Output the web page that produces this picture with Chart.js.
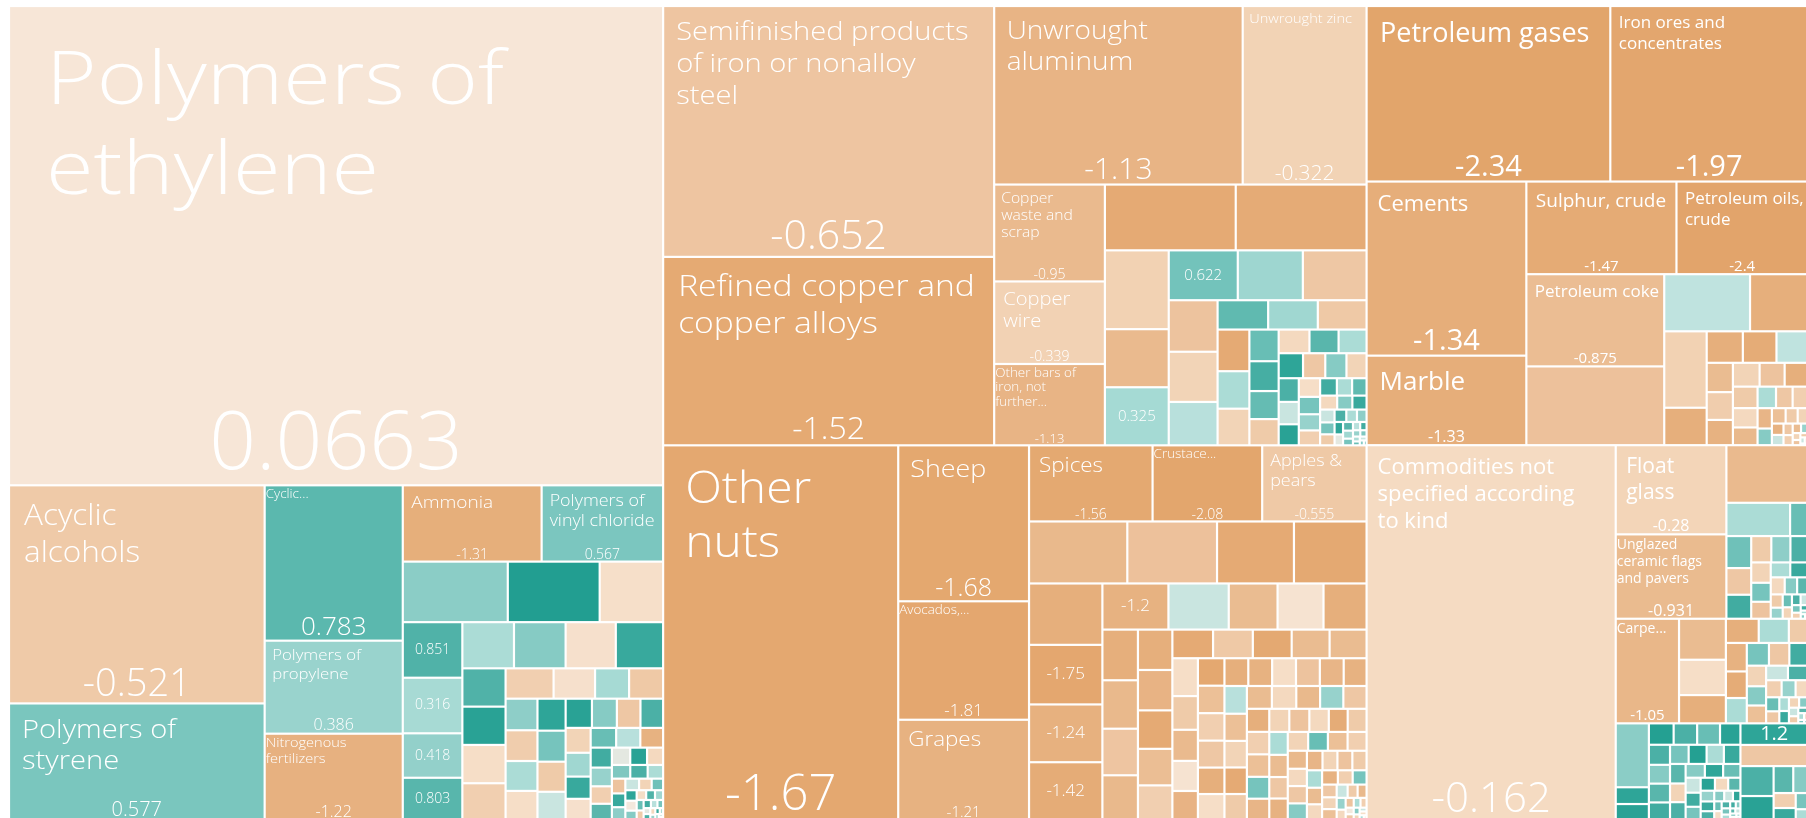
<!DOCTYPE html>
<html>
<head>
<meta charset="utf-8">
<script src="https://cdn.jsdelivr.net/npm/chart.js@4.4.0/dist/chart.umd.min.js"></script>
<style>
html,body{margin:0;padding:0;background:#ffffff;overflow:hidden;}
#wrap{position:relative;width:1830px;height:830px;}
</style>
</head>
<body>
<div id="wrap"><canvas id="c"></canvas></div>
<script>
// ================= DATA =================
// Chemicals
const chemNames = ["Polymers of\nethylene","Acyclic\nalcohols","Polymers of\nstyrene","Cyclic...","Polymers of\npropylene","Nitrogenous\nfertilizers","Ammonia","Polymers of\nvinyl chloride"];
const chemSizes = [236.7,42.1,22.5,16.2,9.7,9.0,8.0,7.0,4.8,4.2,2.9,2.5,2.5,2.0,1.9,1.8,1.8,1.75,1.65,1.25,1.25,1.25,1.2,1.1,0.95,0.78,0.78,
  0.76,0.74,0.72,0.7,0.68,0.66,0.64,0.6,0.58,0.55,0.52,0.5,0.47,0.45,0.42,0.4,0.38,0.36,0.34,0.32,0.3,0.28,0.26,0.24,0.22,0.21,0.19,0.18,0.16,0.15,0.14,0.13,0.12,0.11,0.1,0.09,0.085,0.08,0.07,0.065,0.06,0.055,0.05,0.045,0.04,0.035,0.03,0.03,0.025,0.02,0.02,0.015,0.015,0.01,0.01];
const chemValues = [0.0663,-0.521,0.577,0.783,0.386,-1.22,-1.31,0.567,0.47,1.45,-0.08,0.851,0.316,0.418,0.803,0.3,0.5,-0.05,1.1,0.85,1.3,-0.1,-0.4,-0.4,-0.05,0.32,-0.55,
  0.45,-0.45,0.3,-0.1,1.2,0.6,-0.5,0.2,1.3,0.5,-0.6,0.9,-0.3,0.35,1.1,-0.05,0.7,0.25,-1.2,1.0,0.4,-0.4,0.8,0.15,1.3,-0.2,0.55,0.9,0.3,-0.7,1.1,0.45,0.2,-0.3,0.65,1.2,0.1,0.5,-0.1,0.85,0.35,0.7,-0.5,1.0,0.25,0.6,0.15,0.9,-0.2,0.4,1.1,0.3,0.5,0.2,0.7];

// Metals
const metalNames = ["Semifinished products\nof iron or nonalloy\nsteel","Refined copper and\ncopper alloys","Unwrought\naluminum","Unwrought zinc","Copper\nwaste and\nscrap","Copper\nwire","Other bars of\niron, not\nfurther..."];
const metalSizes = [62.7,47.1,33.5,16.7,8.1,6.9,6.8,6.5,6.5,3.8,2.8,2.8,2.6,2.45,2.4,1.9,1.85,1.6,1.12,1.1,1.08,1.0,0.9,0.88,
  0.7,0.66,0.62,0.58,0.55,0.52,0.5,0.46,0.42,0.4,0.38,0.36,0.34,0.32,0.3,0.28,0.26,0.24,0.22,0.2,0.19,0.18,0.16,0.15,0.14,0.13,0.12,0.11,0.1,0.09,0.08,0.07,0.065,0.06,0.05,0.045,0.04,0.035,0.03,0.025,0.02,0.02,0.015,0.01];
const metalValues = [-0.652,-1.52,-1.13,-0.322,-0.95,-0.339,-1.13,-1.5,-1.45,-0.35,-0.95,0.325,0.622,0.36,-0.6,-0.7,-0.3,0.25,0.75,0.35,-0.55,-1.5,0.3,-0.3,
  0.7,0.95,0.72,-0.5,-0.2,0.8,0.3,1.2,-0.6,0.5,-0.3,0.9,0.2,1.3,-0.1,0.6,0.4,-0.4,1.0,0.3,0.75,-0.2,0.5,1.1,0.2,0.6,-0.5,0.9,0.3,0.45,1.2,0.15,0.8,0.35,0.6,0.25,1.0,0.4,0.55,0.3,0.7,0.2,0.5,0.9];

// Agriculture & food
const agriNames = ["Other\nnuts","Sheep","Avocados,...","Grapes","Spices","Crustace...","Apples &\npears"];
const agriSizes = [66.5,15.4,11.7,9.9,7.1,6.3,6.0,4.6,4.2,3.6,3.4,3.4,3.3,3.2,3.2,2.3,2.1,1.7,1.6,1.5,1.36,1.3,1.25,1.2,1.05,1.05,1.0,0.95,0.9,0.88,0.86,0.84,0.82,0.8,0.73,0.65,0.6,0.58,0.56,
  0.55,0.55,0.55,0.54,0.53,0.52,0.5,0.5,0.5,0.5,0.5,0.48,0.47,0.46,0.45,0.45,0.44,0.43,0.42,0.41,0.4,0.4,0.39,0.38,0.38,0.37,0.36,0.35,0.35,0.34,0.33,0.33,0.32,0.31,0.3,0.3,0.29,0.28,0.28,0.27,0.26,0.25,0.25,0.24,0.23,0.22,0.22,0.21,0.2,0.19,0.18,0.17,0.16,0.15,0.14,0.13,0.12,0.11,0.1,0.09,0.08,0.07,0.06,0.05,0.045,0.04,0.035,0.03,0.025,0.02,0.02,0.015,0.01];
const agriValues = [-1.67,-1.68,-1.81,-1.21,-1.56,-2.08,-0.555,-1.0,-0.75,-1.5,-1.55,-1.3,-1.75,-1.24,-1.42,-1.2,0.2,-0.9,0.0,-1.3,-1.3,-1.0,-0.65,-1.0,-1.3,-1.15,-1.5,-0.85,-0.4,-1.5,-0.55,-1.55,-0.9,-0.9,-0.1,-0.5,-0.95,0.0,-1.15,
  -1.6,-0.8,-0.4,-0.6,-1.3,-0.1,-1.3,-1.2,-0.1,-0.7,-1.1,-1.2,0.25,-0.8,-0.3,-1.5,-0.5,-0.9,-0.2,-1.0,0.4,-0.6,-1.3,-0.4,-0.8,0.6,-1.1,-0.3,-0.7,-0.2,-1.4,-0.5,0.3,-0.9,-0.6,-1.2,-0.3,0.7,-0.8,-0.4,-1.0,-0.2,-0.6,0.5,-1.1,-0.3,-0.7,-0.5,0.3,-0.9,-0.2,-1.2,-0.4,0.6,-0.6,-0.3,-0.8,0.2,-0.5,-1.0,0.4,-0.2,-0.7,0.3,-0.4,0.1,-0.6,0.5,-0.3,0.2,-0.1,0.3];

// Mineral products
const mineralNames = ["Petroleum gases","Iron ores and\nconcentrates","Cements","Marble","Sulphur, crude","Petroleum oils,\ncrude","Petroleum coke"];
const mineralSizes = [32.3,26.2,21.0,10.8,10.5,9.2,9.6,8.2,3.7,2.5,2.45,1.2,
  0.86,0.8,0.75,0.58,0.55,0.5,0.48,0.45,0.42,0.4,0.36,0.33,0.3,0.27,0.25,0.22,0.18,0.16,0.14,0.12,0.1,0.09,0.08,0.07,0.06,0.05,0.04,0.03,0.025,0.02,0.015,0.01];
const mineralValues = [-2.34,-1.97,-1.34,-1.33,-1.47,-2.4,-0.875,-0.75,0.22,-1.3,-0.35,-1.3,
  -1.3,-1.4,0.22,-0.9,-0.45,-1.2,-0.3,-0.7,-1.3,-0.5,-0.2,-1.0,0.3,-0.6,-0.4,-1.1,0.5,-0.8,-0.5,-0.3,-1.2,0.2,-0.6,-0.4,-0.9,0.4,-0.3,-0.7,-0.5,0.2,-0.2,-0.8];

// Other: unspecified, stone & glass, textiles, machinery
const miscNames = ["Commodities not\nspecified according\nto kind"];
const miscSizes = [70.5];
const miscValues = [-0.162];

const stoneNames = ["Float\nglass","Unglazed\nceramic flags\nand pavers"];
const stoneSizes = [7.45,7.05,3.55,1.6,0.45,0.6,0.5,0.45,0.4,0.38,0.35,0.3,0.28,0.25,0.22,0.2,0.18,0.16,0.14,0.12,0.1,0.09,0.08,0.07,0.06,0.05,0.04,0.03,0.02,0.015,0.01];
const stoneValues = [-0.28,-0.931,-0.95,0.3,0.7,0.65,-0.6,1.0,-0.5,0.45,0.9,-0.3,0.6,-0.7,0.3,1.1,-0.2,0.5,0.8,-0.5,0.4,0.7,-0.3,0.9,0.2,0.6,-0.4,1.0,0.3,0.5,-0.2];

const textileNames = ["Carpe..."];
const textileSizes = [5.0,1.45,1.25,1.0,0.6,0.55,0.35,0.45,0.42,0.4,0.38,0.35,0.32,0.3,0.28,0.26,0.24,0.22,0.2,0.18,0.16,0.14,0.12,0.1,0.09,0.08,0.07,0.06,0.05,0.04,0.03,0.02,0.015,0.01];
const textileValues = [-1.05,-0.9,-0.1,-1.3,-1.3,0.3,-0.5,-1.2,-1.4,0.3,0.6,-0.6,1.0,-0.3,0.5,-0.8,0.2,0.9,-0.4,0.4,-0.2,0.7,-0.6,0.3,1.1,-0.3,0.5,0.2,-0.5,0.8,0.3,-0.2,0.6,0.4];

const machSizes = [1.6,0.42,0.4,0.4,0.38,0.37,0.33,0.32,0.3,0.3,0.28,0.27,0.26,0.25,0.24,0.23,0.22,0.21,0.2,0.19,0.18,0.17,0.16,0.15,0.14,0.13,0.12,0.11,0.1,0.09,0.08,0.07,0.06,0.055,0.05,0.045,0.04,0.035,0.03,0.025,0.02,0.02,0.015,0.015,0.01,0.01];
const machValues = [0.47,1.2,1.3,1.4,0.9,0.7,1.3,0.9,0.5,0.8,1.0,0.6,1.4,0.3,1.1,0.8,-0.3,0.9,0.5,1.2,0.7,0.2,1.0,0.6,1.3,-0.2,0.8,0.4,1.1,0.9,0.5,0.2,1.2,0.7,-0.1,0.9,0.6,0.3,1.0,0.5,0.8,0.2,0.7,-0.2,0.4,0.6];

const mixSizes = [1.1,1.08,0.75,0.6,0.4,0.3,0.25,0.2,0.15,0.1];
const mixValues = [1.2,-0.6,0.9,1.3,0.8,0.5,-0.4,1.1,0.6,0.3];

// ================= STYLE / LAYOUT HINTS =================
// strip structure: negative = column on the left, positive = row on top (counts of items)
const STRIPS = {
  root:[-1,-2,1,1],
  chem:[1,-2,-3,2,3,-4,4,-4,4],
  metal:[-2,2,-3,2,-3,3,-3,3,-3],
  agri:[-1,-3,3,4,-4,5,-4,-5,5,-5],
  mineral:[2,-2,2,-2,2,-2],
  other:[-1,1,1,1],
  misc:[],
  stone:[-2,1,2,-3],
  textile:[-1,-3,3],
  machGroup:[-1,-1],
  mach:[-3],
  mix:[1,1]
};
const FONT_LIGHT = '"Open Sans", "Lato", sans-serif';
const FONT_WIDE = '"Open Sans", "Noto Sans", sans-serif';
const LIGHT_STRETCH = 1.12;
// n: name font px, v: value font px, tight: label hugging left edge, sx: horizontal stretch of name
const LABELS = {
  'chem:0':{n:74,v:82,sx:1.17}, 'chem:1':{n:30,v:38,sx:1.05}, 'chem:2':{n:26,v:20}, 'chem:3':{n:12,v:26,tight:true},
  'chem:4':{n:15,v:16}, 'chem:5':{n:13,v:16,tight:true}, 'chem:6':{n:17,v:14}, 'chem:7':{n:16,v:14},
  'chem:11':{v:14}, 'chem:12':{v:14}, 'chem:13':{v:14}, 'chem:14':{v:14},
  'metal:0':{n:26,v:41}, 'metal:1':{n:30,v:32}, 'metal:2':{n:25,v:30}, 'metal:3':{n:13,v:21},
  'metal:4':{n:14,v:14}, 'metal:5':{n:18,v:14}, 'metal:6':{n:12,v:13,tight:true},
  'metal:11':{v:15}, 'metal:12':{v:15},
  'agri:0':{n:44,v:49,sx:1.09}, 'agri:1':{n:24,v:25}, 'agri:2':{n:12,v:17,tight:true}, 'agri:3':{n:20,v:15},
  'agri:4':{n:20,v:14}, 'agri:5':{n:12,v:14,tight:true}, 'agri:6':{n:16,v:14},
  'agri:12':{v:17}, 'agri:13':{v:17}, 'agri:14':{v:17}, 'agri:15':{v:17},
  'mineral:0':{n:27,v:29,wide:true}, 'mineral:1':{n:17,v:29,wide:true}, 'mineral:2':{n:22,v:29,wide:true},
  'mineral:3':{n:26,v:16,wide:true}, 'mineral:4':{n:19,v:15,wide:true}, 'mineral:5':{n:17,v:15,wide:true},
  'mineral:6':{n:17,v:15,wide:true},
  'misc:0':{n:22,v:42,wide:true,lightValue:true},
  'stone:0':{n:21,v:16,wide:true}, 'stone:1':{n:14,v:16,wide:true,tight:true},
  'textile:0':{n:14,v:15,wide:true,tight:true},
  'mix:0':{v:20,wide:true}
};
const COLOR_STOPS = [
  [-2.5,'#E2A46A'],[-1.6,'#E4A870'],[-1.33,'#E6AE7A'],[-1.13,'#E8B485'],[-0.93,'#EABB8F'],
  [-0.65,'#EEC5A1'],[-0.52,'#EFCAA8'],[-0.32,'#F2D3B5'],[-0.16,'#F5DBC2'],[0.07,'#F7E6D7'],
  [0.13,'#EEEAE2'],[0.22,'#BFE3DF'],[0.32,'#A6DAD4'],[0.42,'#93D0CA'],[0.57,'#7BC6BF'],
  [0.62,'#73C3BB'],[0.78,'#5CB8AE'],[0.85,'#50B2A8'],[1.2,'#2EA598'],[1.5,'#1F9D8F']
];

// ================= BUILD TREE =================
function leaves(key, names, sizes, values) {
  return sizes.map((s, i) => ({ key: key + ':' + i, group: key, name: names[i] || '', value: s, metric: values[i] ?? 0 }));
}
function node(key, children) { return { key, children, value: children.reduce((a, c) => a + c.value, 0) }; }

const tree = node('root', [
  node('chem', leaves('chem', chemNames, chemSizes, chemValues)),
  node('metal', leaves('metal', metalNames, metalSizes, metalValues)),
  node('agri', leaves('agri', agriNames, agriSizes, agriValues)),
  node('mineral', leaves('mineral', mineralNames, mineralSizes, mineralValues)),
  node('other', [
    leaves('misc', miscNames, miscSizes, miscValues)[0],
    node('stone', leaves('stone', stoneNames, stoneSizes, stoneValues)),
    node('textile', leaves('textile', textileNames, textileSizes, textileValues)),
    node('machGroup', [
      node('mach', leaves('mach', [], machSizes, machValues)),
      node('mix', leaves('mix', [], mixSizes, mixValues))
    ])
  ])
]);

// ================= LAYOUT (in data units) =================
const RATIO = 1;
function placeRow(items, x0, y0, x1, y1, horizontal, out) {
  const tot = items.reduce((a, c) => a + c.value, 0);
  let p = horizontal ? x0 : y0;
  items.forEach(it => {
    const f = tot ? it.value / tot : 0;
    if (horizontal) { const w = (x1 - x0) * f; layout(it, p, y0, p + w, y1, out); p += w; }
    else { const h = (y1 - y0) * f; layout(it, x0, p, x1, p + h, out); p += h; }
  });
}
function squarify(items, x0, y0, x1, y1, out) {
  let value = items.reduce((a, c) => a + c.value, 0);
  let i0 = 0; const n = items.length;
  while (i0 < n) {
    const dx = x1 - x0, dy = y1 - y0;
    let i1 = i0;
    let sum = items[i1++].value, minV = sum, maxV = sum;
    const alpha = Math.max(dy / dx, dx / dy) / (value * RATIO);
    let beta = sum * sum * alpha;
    let minRatio = Math.max(maxV / beta, beta / minV);
    for (; i1 < n; ++i1) {
      const v = items[i1].value;
      sum += v;
      const mn = Math.min(minV, v), mx = Math.max(maxV, v);
      beta = sum * sum * alpha;
      const r = Math.max(mx / beta, beta / mn);
      if (r > minRatio) { sum -= v; break; }
      minRatio = r; minV = mn; maxV = mx;
    }
    const row = items.slice(i0, i1);
    if (dx < dy) { const h = value ? dy * sum / value : dy; placeRow(row, x0, y0, x1, y0 + h, true, out); y0 += h; }
    else { const w = value ? dx * sum / value : dx; placeRow(row, x0, y0, x0 + w, y1, false, out); x0 += w; }
    value -= sum; i0 = i1;
  }
}
function layout(nd, x0, y0, x1, y1, out) {
  if (!nd.children) { out.push(Object.assign({}, nd, { x0, y0, x1, y1 })); return; }
  const kids = nd.children;
  let V = nd.value, i = 0;
  for (const s of (STRIPS[nd.key] || [])) {
    const cnt = Math.abs(s); const part = kids.slice(i, i + cnt);
    if (!part.length) break;
    const sv = part.reduce((a, c) => a + c.value, 0);
    if (s < 0) { const w = (x1 - x0) * sv / V; placeRow(part, x0, y0, x0 + w, y1, false, out); x0 += w; }
    else { const h = (y1 - y0) * sv / V; placeRow(part, x0, y0, x1, y0 + h, true, out); y0 += h; }
    V -= sv; i += cnt;
  }
  if (i < kids.length) squarify(kids.slice(i), x0, y0, x1, y1, out);
}

// ================= COLOURS & TEXT =================
function hexToRgb(h) { return [1, 3, 5].map(k => parseInt(h.slice(k, k + 2), 16)); }
function colorFor(v) {
  const s = COLOR_STOPS;
  if (v <= s[0][0]) return s[0][1];
  if (v >= s[s.length - 1][0]) return s[s.length - 1][1];
  for (let k = 0; k < s.length - 1; k++) {
    if (v >= s[k][0] && v <= s[k + 1][0]) {
      const t = (v - s[k][0]) / (s[k + 1][0] - s[k][0]);
      const a = hexToRgb(s[k][1]), b = hexToRgb(s[k + 1][1]);
      return 'rgb(' + a.map((c, j) => Math.round(c + (b[j] - c) * t)).join(',') + ')';
    }
  }
  return '#ccc';
}
function fmt(v) { return String(Number(v.toPrecision(3))); }
function stretchedText(ctx, text, x, y, sx) {
  ctx.save(); ctx.translate(x, y); ctx.scale(sx, 1); ctx.fillText(text, 0, 0); ctx.restore();
}

const TW = 1799, TH = 814;
const treemapPlugin = {
  id: 'treemapCells',
  afterDatasetsDraw(chart) {
    const xs = chart.scales.x, ys = chart.scales.y, ctx = chart.ctx;
    const out = [];
    layout(tree, 0, 0, TW, TH, out);
    const G = 1.1;
    ctx.save();
    out.forEach(c => {
      const px0 = xs.getPixelForValue(c.x0), px1 = xs.getPixelForValue(c.x1);
      const py0 = ys.getPixelForValue(c.y0), py1 = ys.getPixelForValue(c.y1);
      const w = px1 - px0 - 2 * G, h = py1 - py0 - 2 * G;
      if (w <= 0.3 || h <= 0.3) return;
      ctx.fillStyle = colorFor(c.metric);
      ctx.fillRect(px0 + G, py0 + G, w, h);
      c.px = [px0, py0, px1, py1];
    });
    ctx.fillStyle = '#ffffff';
    out.forEach(c => {
      const st = LABELS[c.key];
      if (!st || !c.px) return;
      const [x0, y0, x1, y1] = c.px;
      const nameFam = st.wide ? FONT_WIDE : FONT_LIGHT;
      const nameW = st.wide ? 400 : 300;
      const sx = st.sx || (st.wide ? 1 : LIGHT_STRETCH);
      const valFam = (st.wide && !st.lightValue) ? FONT_WIDE : FONT_LIGHT;
      const valW = (st.wide && !st.lightValue) ? 400 : 300;
      const txt = fmt(c.metric);
      if (st.n && c.name) {
        ctx.font = nameW + ' ' + st.n + 'px ' + nameFam;
        ctx.textAlign = 'left'; ctx.textBaseline = 'alphabetic';
        const pad = st.tight ? 1 : Math.max(5, Math.min(38, st.n * 0.5));
        let y = y0 + (st.tight ? 1.05 : 1.32) * st.n;
        c.name.split('\n').forEach(line => { stretchedText(ctx, line, x0 + pad, y, sx); y += 1.22 * st.n; });
        ctx.font = valW + ' ' + st.v + 'px ' + valFam;
        ctx.textAlign = 'center';
        ctx.fillText(txt, (x0 + x1) / 2, y1 - 0.2 * st.v);
      } else {
        ctx.font = valW + ' ' + st.v + 'px ' + valFam;
        ctx.textAlign = 'center'; ctx.textBaseline = 'middle';
        ctx.fillText(txt, (x0 + x1) / 2, (y0 + y1) / 2);
      }
    });
    ctx.restore();
  }
};

new Chart(document.getElementById('c'), {
  type: 'scatter',
  data: { datasets: [{ label: 'cells', data: [] }] },
  options: {
    responsive: true,
    maintainAspectRatio: false,
    animation: false,
    layout: { padding: { left: 9, top: 6, right: 22, bottom: 10 } },
    scales: {
      x: { type: 'linear', min: 0, max: TW, display: false },
      y: { type: 'linear', min: 0, max: TH, reverse: true, display: false }
    },
    plugins: { legend: { display: false }, tooltip: { enabled: false } }
  },
  plugins: [treemapPlugin]
});
</script>
</body>
</html>
